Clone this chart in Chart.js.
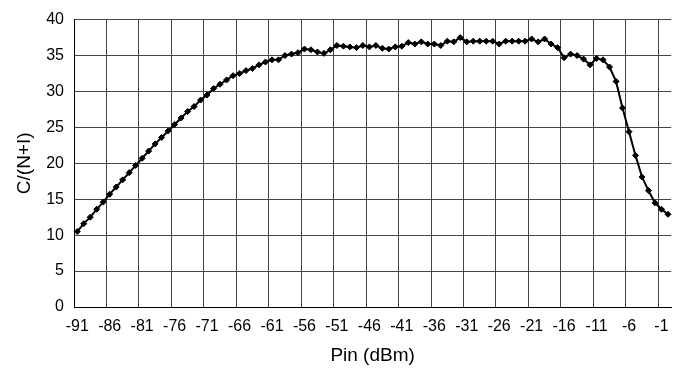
<!DOCTYPE html>
<html>
<head>
<meta charset="utf-8">
<script src="https://cdn.jsdelivr.net/npm/chart.js@4/dist/chart.umd.min.js"></script>
<style>
html,body{margin:0;padding:0;background:#fff;}
#wrap{width:678px;height:371px;}
</style>
</head>
<body>
<div id="wrap"><canvas id="c" width="678" height="371"></canvas></div>
<script>
// Input power (dBm), one point per dBm
const pinDbm = [
  -91,-90,-89,-88,-87,-86,-85,-84,-83,-82,
  -81,-80,-79,-78,-77,-76,-75,-74,-73,-72,
  -71,-70,-69,-68,-67,-66,-65,-64,-63,-62,
  -61,-60,-59,-58,-57,-56,-55,-54,-53,-52,
  -51,-50,-49,-48,-47,-46,-45,-44,-43,-42,
  -41,-40,-39,-38,-37,-36,-35,-34,-33,-32,
  -31,-30,-29,-28,-27,-26,-25,-24,-23,-22,
  -21,-20,-19,-18,-17,-16,-15,-14,-13,-12,
  -11,-10,-9,-8,-7,-6,-5,-4,-3,-2,
  -1,0
];
// C/(N+I) values
const cnir = [
  10.5,11.6,12.5,13.6,14.6,15.7,16.7,17.7,18.7,19.7,
  20.7,21.7,22.7,23.6,24.5,25.4,26.3,27.2,27.9,28.8,
  29.5,30.4,31.0,31.6,32.2,32.5,32.9,33.2,33.7,34.1,
  34.4,34.4,35.0,35.2,35.4,35.9,35.8,35.5,35.3,35.8,
  36.4,36.3,36.2,36.1,36.4,36.2,36.4,36.0,35.9,36.2,
  36.3,36.8,36.6,36.9,36.6,36.6,36.4,37.0,36.9,37.5,
  36.9,37.0,37.0,37.0,37.0,36.6,37.0,37.0,37.0,37.0,
  37.3,36.9,37.3,36.6,36.1,34.7,35.2,35.0,34.5,33.7,
  34.6,34.4,33.4,31.4,27.7,24.4,21.1,18.1,16.2,14.5,
  13.6,12.9
];
// Labelled x positions
const xTickLabels = [-91,-86,-81,-76,-71,-66,-61,-56,-51,-46,-41,-36,-31,-26,-21,-16,-11,-6,-1];
const yMin = 0, yMax = 40, yStep = 5;

const FONT = "'Liberation Sans', Arial, Helvetica, sans-serif";
const GRID = '#444444';

const bgPlugin = {
  id: 'bg',
  beforeDraw(chart) {
    const c = chart.ctx;
    c.save();
    c.fillStyle = '#ffffff';
    c.fillRect(0, 0, chart.width, chart.height);
    c.restore();
  }
};

new Chart(document.getElementById('c'), {
  type: 'line',
  data: {
    labels: pinDbm.map(String),
    datasets: [{
      data: cnir,
      borderColor: '#000',
      backgroundColor: '#000',
      borderWidth: 2,
      pointStyle: 'rectRot',
      pointRadius: 3,
      pointBorderWidth: 1,
      pointBorderColor: '#000',
      pointBackgroundColor: '#000',
      tension: 0,
      fill: false
    }]
  },
  options: {
    responsive: false,
    devicePixelRatio: 1,
    animation: false,
    layout: { padding: { top: 13, right: 6, left: 0, bottom: 0 } },
    plugins: { legend: { display: false }, tooltip: { enabled: false } },
    scales: {
      x: {
        type: 'category',
        offset: true,
        grid: {
          offset: true,
          drawTicks: false,
          lineWidth: 1,
          color: (ctx) => (ctx.index % 5 === 0 || ctx.index >= pinDbm.length) ? GRID : 'rgba(0,0,0,0)'
        },
        border: { display: true, color: '#000', width: 1 },
        ticks: {
          autoSkip: false,
          maxRotation: 0,
          minRotation: 0,
          padding: 10,
          color: '#000',
          font: { family: FONT, size: 16 },
          callback: function (v) {
            const l = this.getLabelForValue(v);
            return xTickLabels.includes(Number(l)) ? l : '';
          }
        },
        title: {
          display: true,
          text: 'Pin (dBm)',
          color: '#000',
          font: { family: FONT, size: 19 },
          padding: { top: 0, bottom: 4 }
        },
        afterFit: (s) => { s.height = 64; }
      },
      y: {
        min: yMin,
        max: yMax,
        grid: { drawTicks: false, color: GRID, lineWidth: 1 },
        border: { display: true, color: '#000', width: 1 },
        ticks: {
          stepSize: yStep,
          padding: 10,
          color: '#000',
          font: { family: FONT, size: 16 }
        },
        title: {
          display: true,
          text: 'C/(N+I)',
          color: '#000',
          font: { family: FONT, size: 19 },
          padding: { top: 13, bottom: 0 }
        },
        afterFit: (s) => { s.width = 74; }
      }
    }
  },
  plugins: [bgPlugin]
});
</script>
</body>
</html>
